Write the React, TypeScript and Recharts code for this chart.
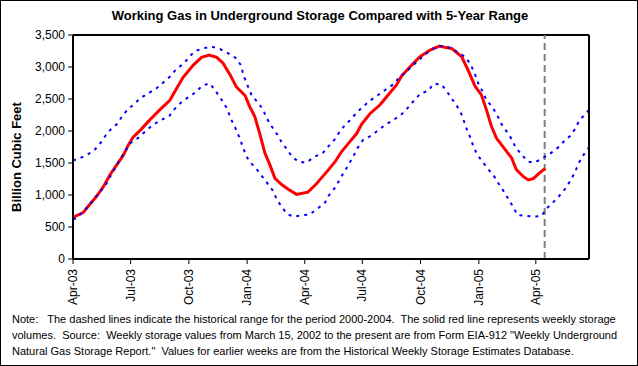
import React from 'react'
import {
  LineChart,
  Line,
  XAxis,
  YAxis,
  ReferenceLine,
} from 'recharts'

// x values are days since 1 Apr 2003, y values are Bcf
const RED_WEEKLY: [number, number][] = [
  [0, 650], [16, 725], [27, 860], [37, 975], [48, 1130], [58, 1310], [69, 1470],
  [79, 1610], [87, 1775], [95, 1905], [108, 2030], [121, 2170], [137, 2330],
  [153, 2480], [161, 2620], [174, 2840], [190, 3030], [203, 3150], [215, 3185],
  [227, 3150], [237, 3060], [248, 2880], [258, 2690], [272, 2550], [279, 2380],
  [287, 2230], [295, 1960], [303, 1660], [311, 1470], [319, 1260], [330, 1160],
  [340, 1090], [353, 1010], [371, 1045], [385, 1180], [390, 1240], [401, 1365],
  [414, 1520], [424, 1675], [437, 1830], [448, 1960], [456, 2110], [469, 2270],
  [485, 2410], [500, 2590], [511, 2720], [519, 2860], [535, 3030], [548, 3160],
  [564, 3265], [579, 3328], [587, 3310], [598, 3290], [614, 3160], [624, 2950],
  [635, 2700], [645, 2565], [653, 2330], [661, 2070], [669, 1885], [679, 1755],
  [693, 1575], [700, 1400], [711, 1290], [719, 1235], [727, 1255], [737, 1345],
  [746, 1415],
]

const RANGE_HIGH: [number, number][] = [
  [0, 1540], [10, 1573], [22, 1625], [35, 1714], [45, 1833], [52, 1937], [61, 2042],
  [69, 2104], [78, 2234], [87, 2344], [95, 2406], [106, 2510], [119, 2589],
  [132, 2667], [144, 2771], [153, 2849], [163, 2964], [175, 3057], [185, 3172],
  [193, 3250], [206, 3292], [219, 3318], [232, 3281], [245, 3214], [258, 3136],
  [265, 3031], [270, 2849], [282, 2563], [292, 2443], [300, 2339], [306, 2198],
  [314, 2068], [322, 1953], [330, 1818], [338, 1714], [346, 1599], [356, 1521],
  [368, 1505], [382, 1599], [395, 1661], [403, 1755], [415, 1885], [422, 2005],
  [431, 2104], [439, 2183], [448, 2286], [458, 2380], [469, 2474], [482, 2563],
  [493, 2641], [506, 2729], [515, 2833], [526, 2927], [535, 3005], [545, 3099],
  [557, 3203], [569, 3292], [582, 3328], [593, 3307], [606, 3240], [619, 3161],
  [627, 3057], [634, 2911], [640, 2745], [648, 2599], [653, 2484], [662, 2380],
  [670, 2250], [676, 2120], [684, 2005], [692, 1885], [699, 1745], [710, 1614],
  [719, 1521], [729, 1505], [743, 1583], [753, 1641], [766, 1740], [774, 1823],
  [785, 1922], [793, 2031], [800, 2172], [808, 2250], [815, 2328],
]

const RANGE_LOW: [number, number][] = [
  [0, 620], [5, 635], [16, 740], [26, 844], [36, 974], [45, 1078], [53, 1182],
  [61, 1328], [68, 1443], [75, 1573], [82, 1677], [90, 1807], [102, 1885],
  [112, 1974], [124, 2078], [137, 2161], [152, 2234], [160, 2339], [172, 2458],
  [182, 2526], [195, 2615], [204, 2708], [216, 2745], [227, 2599], [235, 2484],
  [243, 2354], [249, 2198], [256, 2057], [263, 1896], [269, 1729], [274, 1599],
  [283, 1479], [291, 1391], [299, 1286], [307, 1182], [315, 1078], [322, 932],
  [330, 807], [339, 698], [349, 661], [362, 682], [374, 698], [387, 792],
  [398, 880], [404, 990], [413, 1104], [420, 1219], [427, 1339], [435, 1469],
  [443, 1609], [449, 1729], [458, 1859], [468, 1911], [479, 1989], [493, 2094],
  [506, 2172], [518, 2250], [528, 2354], [537, 2458], [549, 2589], [561, 2625],
  [569, 2734], [582, 2729], [590, 2625], [599, 2495], [607, 2380], [615, 2234],
  [620, 2078], [627, 1911], [633, 1740], [640, 1609], [648, 1505], [656, 1401],
  [664, 1312], [671, 1198], [679, 1078], [687, 948], [695, 817], [702, 687],
  [714, 677], [728, 661], [740, 672], [748, 792], [758, 880], [767, 974],
  [776, 1078], [784, 1198], [792, 1339], [799, 1505], [807, 1636], [815, 1745],
]

const X_TICK_DAYS = [0, 91, 183, 275, 366, 457, 549, 641, 731]
const X_TICK_LABELS = ['Apr-03', 'Jul-03', 'Oct-03', 'Jan-04', 'Apr-04', 'Jul-04', 'Oct-04', 'Jan-05', 'Apr-05']
const Y_TICKS = [0, 500, 1000, 1500, 2000, 2500, 3000, 3500]
const CURRENT_WEEK_DAY = 745

const NOTE_LINES = [
  'Note:   The dashed lines indicate the historical range for the period 2000-2004.  The solid red line represents weekly storage',
  'volumes.  Source:  Weekly storage values from March 15, 2002 to the present are from Form EIA-912 "Weekly Underground',
  'Natural Gas Storage Report."  Values for earlier weeks are from the Historical Weekly Storage Estimates Database.',
]

const FONT = 'Arial, "Liberation Sans", sans-serif'

const toRows = (pts: [number, number][]) => pts.map(([day, value]) => ({ day, value }))

function MonthTick({ x, y, payload }: { x?: number; y?: number; payload?: { value: number } }) {
  const idx = X_TICK_DAYS.indexOf(payload?.value ?? -1)
  return (
    <g transform={`translate(${x},${(y ?? 0) + 3})`}>
      <text transform="rotate(-90)" textAnchor="end" dy={4} fontSize={12} fill="#000" fontFamily={FONT}>
        {X_TICK_LABELS[idx]}
      </text>
    </g>
  )
}

const fmt = (v: number) => v.toLocaleString('en-US')

export default function App() {
  const tickStyle = { fontSize: 12, fill: '#000', fontFamily: FONT }
  return (
    <div style={{ position: 'absolute', left: 0, top: 0, width: 638, height: 366, background: '#fff', fontFamily: FONT }}>
      <LineChart width={638} height={366} margin={{ top: 35, right: 4, bottom: 57, left: 13 }}>
        <XAxis
          dataKey="day"
          type="number"
          domain={[0, 815]}
          ticks={X_TICK_DAYS}
          tick={<MonthTick />}
          height={50}
          axisLine={{ stroke: '#000', strokeWidth: 2 }}
          tickLine={{ stroke: '#000' }}
          tickSize={5}
          allowDataOverflow
        />
        <YAxis
          yAxisId="left"
          domain={[0, 3500]}
          ticks={Y_TICKS}
          tickFormatter={fmt}
          width={60}
          tick={tickStyle}
          axisLine={{ stroke: '#000', strokeWidth: 2 }}
          tickLine={{ stroke: '#000' }}
          tickSize={5}
          tickMargin={3}
        />
        <YAxis
          yAxisId="right"
          orientation="right"
          domain={[0, 3500]}
          ticks={Y_TICKS}
          tickFormatter={fmt}
          width={45}
          tick={tickStyle}
          axisLine={{ stroke: '#000', strokeWidth: 2 }}
          tickLine={{ stroke: '#000' }}
          tickSize={5}
          tickMargin={3}
        />
        <ReferenceLine yAxisId="left" y={3500} stroke="#000" strokeWidth={2} />
        <ReferenceLine yAxisId="left" x={CURRENT_WEEK_DAY} stroke="#808080" strokeWidth={2} strokeDasharray="7 4" />
        <Line
          yAxisId="left"
          data={toRows(RED_WEEKLY)}
          dataKey="value"
          type="linear"
          stroke="#ff0000"
          strokeWidth={3}
          dot={false}
          isAnimationActive={false}
        />
        <Line
          yAxisId="left"
          data={toRows(RANGE_HIGH)}
          dataKey="value"
          type="linear"
          stroke="#0000ff"
          strokeWidth={2}
          strokeDasharray="3 5"
          dot={false}
          isAnimationActive={false}
        />
        <Line
          yAxisId="left"
          data={toRows(RANGE_LOW)}
          dataKey="value"
          type="linear"
          stroke="#0000ff"
          strokeWidth={2}
          strokeDasharray="3 5"
          dot={false}
          isAnimationActive={false}
        />
      </LineChart>

      <div style={{ position: 'absolute', left: 0, top: 8, width: 640, textAlign: 'center', fontSize: 13, fontWeight: 'bold' }}>
        Working Gas in Underground Storage Compared with 5-Year Range
      </div>
      <div style={{ position: 'absolute', left: 16, top: 157, width: 0, height: 0 }}>
        <div style={{ position: 'absolute', transform: 'translate(-50%, -50%) rotate(-90deg)', whiteSpace: 'nowrap', fontSize: 13, fontWeight: 'bold' }}>
          Billion Cubic Feet
        </div>
      </div>
      <div style={{ position: 'absolute', left: 12, top: 311, fontSize: 11, lineHeight: '16px', whiteSpace: 'pre' }}>
        {NOTE_LINES.map((l) => (
          <div key={l}>{l}</div>
        ))}
      </div>
      <div style={{ position: 'absolute', left: 0, top: 0, width: 638, height: 366, boxSizing: 'border-box', border: '1px solid #000', pointerEvents: 'none' }} />
    </div>
  )
}
